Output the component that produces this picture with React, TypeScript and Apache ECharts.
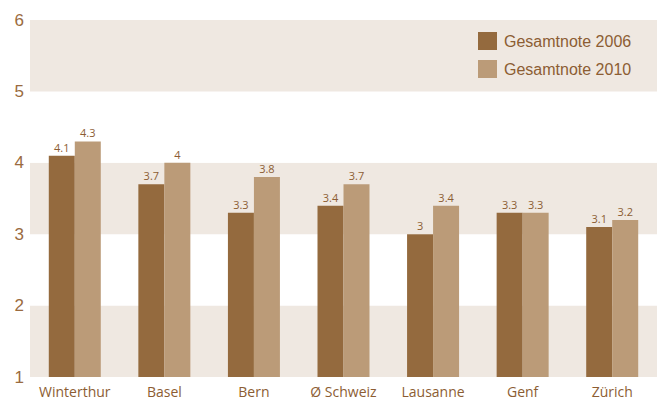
import React, { useEffect, useRef } from "react";
import * as echarts from "echarts";

const categories = ["Winterthur", "Basel", "Bern", "Ø Schweiz", "Lausanne", "Genf", "Zürich"];
const series2006 = [4.1, 3.7, 3.3, 3.4, 3.0, 3.3, 3.1];
const series2010 = [4.3, 4.0, 3.8, 3.7, 3.4, 3.3, 3.2];
const seriesNames = ["Gesamtnote 2006", "Gesamtnote 2010"];
const yTicks = [1, 2, 3, 4, 5, 6];

const DARK = "#946a3e";
const LIGHT = "#bb9b78";
const BAND = "#efe8e1";
const TEXT = "#8c5d33";

export default function App() {
  const ref = useRef<HTMLDivElement>(null);
  useEffect(() => {
    if (!ref.current) return;
    const chart = echarts.init(ref.current, undefined, { renderer: "svg" });
    const labelCfg = {
      show: true,
      position: "top" as const,
      distance: 3,
      color: TEXT,
      fontSize: 11,
      fontFamily: "Open Sans",
    };
    chart.setOption({
      animation: false,
      backgroundColor: "#ffffff",
      grid: { left: 30, right: 0, top: 20, bottom: 22, containLabel: false },
      legend: {
        orient: "vertical",
        left: 478,
        top: 32,
        padding: 0,
        itemWidth: 19,
        itemHeight: 18,
        itemGap: 10,
        icon: "rect",
        textStyle: { color: TEXT, fontSize: 16, fontFamily: "Liberation Sans", padding: [0, 0, 0, 2] },
        data: seriesNames,
      },
      xAxis: {
        type: "category",
        data: categories,
        axisLine: { show: false },
        axisTick: { show: false },
        axisLabel: { color: TEXT, fontSize: 14, fontFamily: "Open Sans", margin: 7, interval: 0 },
      },
      yAxis: {
        type: "value",
        min: yTicks[0],
        max: yTicks[yTicks.length - 1],
        interval: 1,
        axisLine: { show: false },
        axisTick: { show: false },
        splitLine: { show: false },
        splitArea: { show: true, areaStyle: { color: [BAND, "#ffffff"] } },
        axisLabel: { color: "#9a6b40", fontSize: 17, fontFamily: "Liberation Sans", margin: 6 },
      },
      series: [
        {
          name: seriesNames[0],
          type: "bar",
          data: series2006,
          barWidth: 26,
          barGap: "0%",
          itemStyle: { color: DARK },
          label: labelCfg,
        },
        {
          name: seriesNames[1],
          type: "bar",
          data: series2010,
          barWidth: 26,
          barGap: "0%",
          itemStyle: { color: LIGHT },
          label: labelCfg,
        },
      ],
    });
    return () => chart.dispose();
  }, []);
  return (
    <div
      ref={ref}
      style={{ position: "absolute", left: 0, top: 0, width: 657, height: 399 }}
    />
  );
}
